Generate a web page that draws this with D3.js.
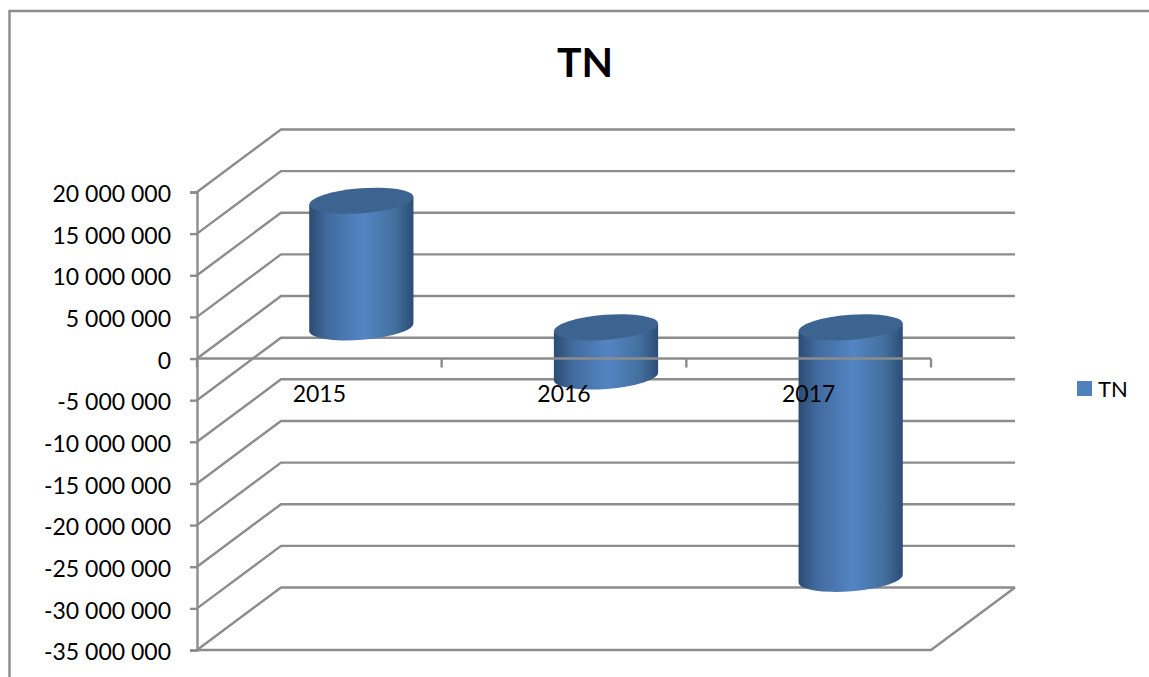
<!DOCTYPE html>
<html lang="en">
<head>
<meta charset="UTF-8">
<title>TN</title>
<script src="https://d3js.org/d3.v7.min.js"></script>
<style>
    body { margin: 0; background: #fff; }
    svg { display: block; }
    text { font-family: Lato, "Open Sans", sans-serif; fill: #000; }
    .wall { fill: none; stroke: #8c8c8c; stroke-width: 2.4; }
    .y-axis path, .y-axis line { stroke: #8c8c8c; stroke-width: 2.4; }
    .y-axis text { font-size: 23px; }
</style>
</head>
<body>
<script>
    // values
    var categories = ["2015", "2016", "2017"];
    var seriesName = "TN";
    var values = [15200000, -5900000, -30200000];
    var yTicks = [20000000, 15000000, 10000000, 5000000, 0, -5000000, -10000000,
        -15000000, -20000000, -25000000, -30000000, -35000000];

    var width = 1149, height = 677;

    // front plane of the fake 3d box, and how far back the wall sits
    var depthX = 84, depthY = -62.5;

    var x = d3.scaleBand().domain(categories).range([197, 931]);
    var y = d3.scaleLinear().domain([-35000000, 20000000]).range([650, 192]);

    var fmt = d3.formatLocale({decimal: ",", thousands: " ", grouping: [3], currency: ["", ""], minus: "-"}).format(",d");

    var svg = d3.select("body").append("svg")
        .attr("width", width)
        .attr("height", height);

    // gradient round the cylinder
    var grad = svg.append("defs").append("linearGradient")
        .attr("id", "body-grad");
    grad.append("stop").attr("offset", "0%").attr("stop-color", "#2b4b72");
    grad.append("stop").attr("offset", "18%").attr("stop-color", "#426b9e");
    grad.append("stop").attr("offset", "52%").attr("stop-color", "#5385c4");
    grad.append("stop").attr("offset", "82%").attr("stop-color", "#44709f");
    grad.append("stop").attr("offset", "100%").attr("stop-color", "#2c4d75");

    // chart frame, runs off the right and bottom of the picture
    svg.append("path")
        .attr("class", "wall")
        .attr("d", "M9.5," + height + "V11H" + width);

    // title
    svg.append("text")
        .attr("x", 585)
        .attr("y", 77)
        .attr("text-anchor", "middle")
        .style("font-size", "41px")
        .style("font-weight", "700")
        .text(seriesName);

    var x0 = x.range()[0], x1 = x.range()[1];

    // side wall diagonals and back wall lines
    svg.selectAll(".grid")
        .data(yTicks)
        .enter().append("path")
        .attr("class", "wall grid")
        .attr("d", function(d) {
            return "M" + x0 + "," + y(d) + "L" + (x0 + depthX) + "," + (y(d) + depthY) + "H" + (x1 + depthX);
        });

    // floor
    var yMin = y.domain()[0];
    svg.append("path")
        .attr("class", "wall")
        .attr("d", "M" + x0 + "," + y(yMin) + "H" + x1 + "L" + (x1 + depthX) + "," + (y(yMin) + depthY));

    // y axis
    var yAxis = svg.append("g")
        .attr("class", "y-axis")
        .attr("transform", "translate(" + x0 + ",0)")
        .call(d3.axisLeft(y).tickValues(yTicks).tickFormat(fmt).tickSizeOuter(0).tickSize(7).tickPadding(19));
    yAxis.select(".domain").attr("fill", "none");
    yAxis.selectAll("text").attr("dy", "0.42em");

    // cylinders stand halfway into the depth
    var rx = x.bandwidth() * 0.213, ry = 12.5, tilt = -4.4;
    var tiltDy = rx * Math.sin(-tilt * Math.PI / 180);

    function cx(d, i) { return x(categories[i]) + x.bandwidth() / 2 + depthX / 2; }
    function topY(d) { return y(Math.max(d, 0)) + depthY / 2; }
    function bottomY(d) { return y(Math.min(d, 0)) + depthY / 2; }

    var bars = svg.selectAll(".bar")
        .data(values)
        .enter().append("g")
        .attr("class", "bar");

    bars.append("path")
        .attr("fill", "url(#body-grad)")
        .attr("d", function(d, i) {
            var c = cx(d, i), t = topY(d), b = bottomY(d);
            return "M" + (c - rx) + "," + (t + tiltDy)
                + "L" + (c - rx) + "," + (b + tiltDy)
                + "A" + rx + "," + ry + "," + tilt + ",0,0," + (c + rx) + "," + (b - tiltDy)
                + "L" + (c + rx) + "," + (t - tiltDy)
                + "Z";
        });

    bars.append("ellipse")
        .attr("fill", "#3d6491")
        .attr("rx", rx)
        .attr("ry", ry)
        .attr("transform", function(d, i) {
            return "translate(" + cx(d, i) + "," + topY(d) + ") rotate(" + tilt + ")";
        });

    // zero line and its ticks sit in front of the bars
    var zero = y(0);
    svg.append("line")
        .attr("class", "wall")
        .attr("x1", x0).attr("x2", x1)
        .attr("y1", zero).attr("y2", zero);

    svg.selectAll(".cat-tick")
        .data(x.domain().map(function(c) { return x(c); }).concat([x1]))
        .enter().append("line")
        .attr("class", "wall cat-tick")
        .attr("x1", function(d) { return d; })
        .attr("x2", function(d) { return d; })
        .attr("y1", zero)
        .attr("y2", zero + 9);

    svg.selectAll(".cat-label")
        .data(categories)
        .enter().append("text")
        .attr("class", "cat-label")
        .attr("x", function(d) { return x(d) + x.bandwidth() / 2; })
        .attr("y", 402)
        .attr("text-anchor", "middle")
        .style("font-size", "23px")
        .text(function(d) { return d; });

    // legend
    svg.append("rect")
        .attr("x", 1077)
        .attr("y", 381)
        .attr("width", 15)
        .attr("height", 15)
        .attr("fill", "#4f81bd");

    svg.append("text")
        .attr("x", 1098)
        .attr("y", 397)
        .style("font-size", "22px")
        .text(seriesName);
</script>
</body>
</html>
